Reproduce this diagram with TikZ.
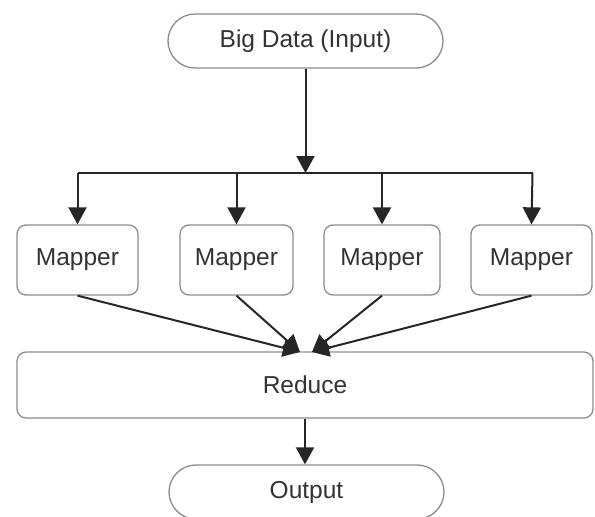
\documentclass[tikz,border=0pt]{standalone}
\usepackage{fontspec}
\setmainfont{Liberation Sans}
\usetikzlibrary{arrows.meta}
\begin{document}
\begin{tikzpicture}[x=1pt,y=-1pt,
  box/.style={draw=black!45, line width=1.3pt, rounded corners=9pt, fill=white,
    inner sep=0pt, text=black!80, font=\fontsize{24.5}{28}\selectfont},
  term/.style={box, rounded corners=27pt, minimum width=275pt, minimum height=54pt},
  mapbox/.style={box, minimum height=70pt},
  conn/.style={line width=2pt, black!85},
  arr/.style={conn, -{Triangle[width=18pt,length=17pt]}}]
\useasboundingbox (0,0) rectangle (595,517);
\clip (0,0) rectangle (595,517);
\node[term] (input) at (305.5,41) {Big Data (Input)};
\node[mapbox, minimum width=121pt] (m1) at (77.5,260) {Mapper};
\node[mapbox, minimum width=113pt] (m2) at (236.5,260) {Mapper};
\node[mapbox, minimum width=116pt] (m3) at (382,260) {Mapper};
\node[mapbox, minimum width=121pt] (m4) at (531.5,260) {Mapper};
\node[box, minimum width=576pt, minimum height=66pt] (reduce) at (305,385) {Reduce};
\node[term] (output) at (306.5,492) {Output};
\coordinate (hl) at (77.5,173);
\coordinate (hr) at (532.5,173);
\coordinate (rl) at (300,352);
\coordinate (rr) at (312,352);
\draw[arr] (input.south) -- (input.south |- hl);
\draw[conn] (hl) -- (hr);
\draw[arr] (hl) -- (m1.north);
\draw[arr] (m2.north |- hl) -- (m2.north);
\draw[arr] (m3.north |- hl) -- (m3.north);
\draw[arr] (hr) -- (m4.north);
\draw[arr] (m1.south) -- (rl);
\draw[arr] (m2.south) -- (rl);
\draw[arr] (m3.south) -- (rr);
\draw[arr] (m4.south) -- (rr);
\draw[arr] (reduce.south) -- (reduce.south |- output.north);
\end{tikzpicture}
\end{document}
